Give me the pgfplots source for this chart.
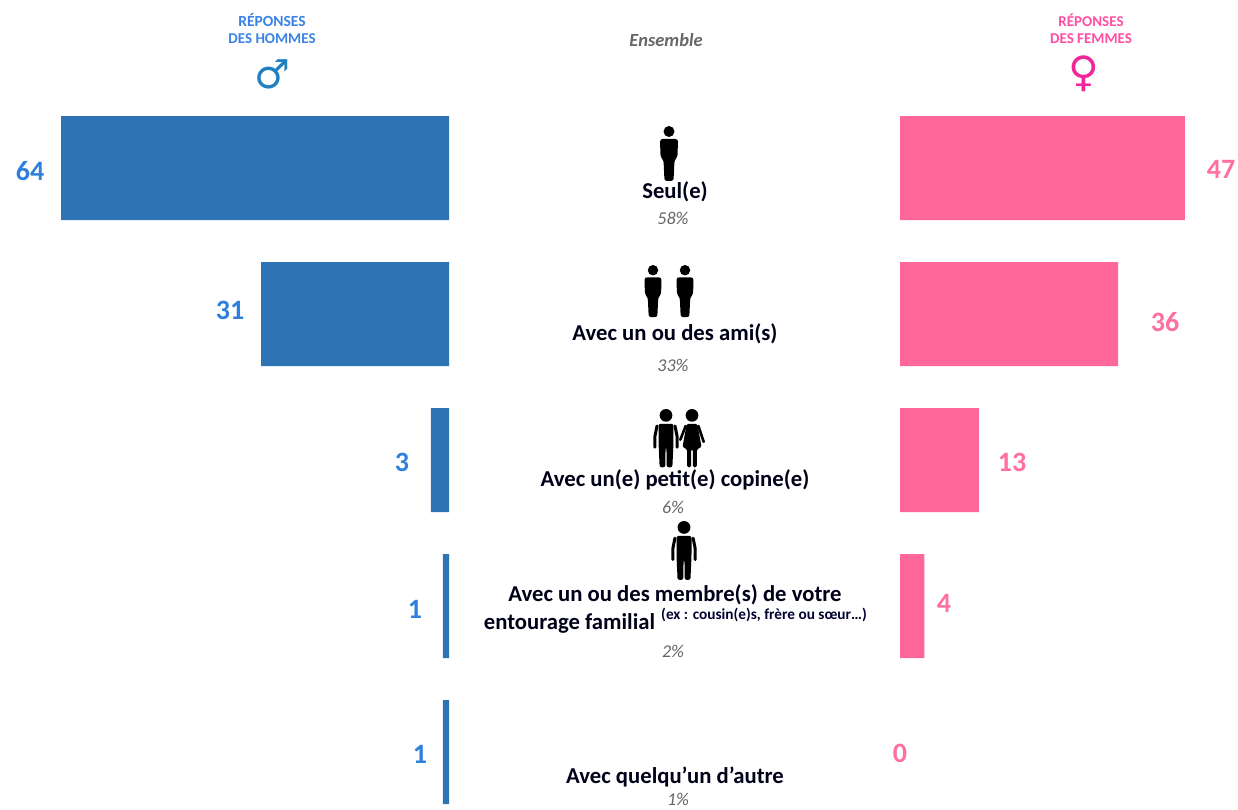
\documentclass[border=0pt]{standalone}
\usepackage{pgfplots}
\pgfplotsset{compat=1.18}
\usepackage{pgfplotstable}
\usepackage{fontspec}
\setmainfont{Carlito}
\newfontfamily\symfont{DejaVu Sans}
\definecolor{mbar}{HTML}{2E74B5}
\definecolor{fbar}{HTML}{FF6699}
\definecolor{mtxt}{HTML}{2F80DC}
\definecolor{ftxt}{HTML}{FF6F9F}
\definecolor{mhead}{HTML}{3A82E4}
\definecolor{fhead}{HTML}{FF4FA3}
\definecolor{msym}{HTML}{1F7FBF}
\definecolor{fsym}{HTML}{F0269A}
\definecolor{graytxt}{HTML}{666666}
\pgfplotstableread{
y v
0 64
1 31
2 3
3 1
4 1
}\hommes
\pgfplotstableread{
y v lx ly
0 47 1221 0.007
1 36 1165 1.055
2 13 1012 2.014
3 4 944 2.980
4 0 900 4.007
}\femmes
\pgfplotstableread{
ly lx v
0.020 30 64
0.973 230 31
2.014 402 3
3.020 415 1
4.014 420 1
}\hommeslab
\pgfplotsset{base/.style={
  scale only axis, axis lines=none, xbar, bar width=104pt, bar shift=0pt,
  height=809pt, y dir=reverse, ymin=-1.1507, ymax=4.3904, clip=false}}
% silhouette: x centre, y top (px from the top), scale
\newcommand{\person}[3]{%
  \begin{scope}[shift={(#1,809-#2)},scale=#3]
    \fill[black] (0,-5.5) circle (5.5);
    \fill[black,rounded corners=2.5pt] (-9,-13) -- (9,-13) -- (8.5,-31) -- (5.5,-34) -- (4.5,-55) -- (-4.5,-55) -- (-5.5,-34) -- (-8.5,-31) -- cycle;
  \end{scope}}
% man with separated arms
\newcommand{\personb}[3]{%
  \begin{scope}[shift={(#1,809-#2)},scale=#3]
    \fill[black] (0,-6) circle (6);
    \fill[black,rounded corners=2pt] (-7,-14) -- (7,-14) -- (7,-33) -- (6,-55) -- (0.7,-55) -- (0.4,-36) -- (-0.4,-36) -- (-0.7,-55) -- (-6,-55) -- (-7,-33) -- cycle;
    \draw[black,line width=3pt,line cap=round,line join=round] (-8.5,-16) -- (-10.5,-26) -- (-10.5,-36);
    \draw[black,line width=3pt,line cap=round,line join=round] (8.5,-16) -- (10.5,-26) -- (10.5,-36);
  \end{scope}}
% woman with a skirt
\newcommand{\personf}[3]{%
  \begin{scope}[shift={(#1,809-#2)},scale=#3]
    \fill[black] (0,-6) circle (6);
    \fill[black,rounded corners=1.5pt] (-5,-14) -- (5,-14) -- (9,-36) -- (4.5,-38) -- (4.5,-55) -- (0.8,-55) -- (0.8,-38) -- (-0.8,-38) -- (-0.8,-55) -- (-4.5,-55) -- (-4.5,-38) -- (-9,-36) -- cycle;
    \draw[black,line width=2.6pt,line cap=round] (6,-16) -- (11,-31);
    \draw[black,line width=2.6pt,line cap=round] (-6,-16) -- (-11,-29);
  \end{scope}}
\newcommand{\txt}[4][]{\node[anchor=center,inner sep=0pt,#1] at (#2,809-#3) {#4};}
\begin{document}
\begin{tikzpicture}[x=1pt,y=1pt]
\useasboundingbox (0,0) rectangle (1238,809);
\begin{axis}[base, at={(0pt,0pt)}, anchor=south west, width=449pt, x dir=reverse, xmin=0, xmax=74.09]
  \addplot[fill=mbar,draw=none] table[x=v,y=y] {\hommes};
\end{axis}
\begin{axis}[base, at={(900pt,0pt)}, anchor=south west, width=338pt, xmin=0, xmax=55.78]
  \addplot[fill=fbar,draw=none,restrict x to domain=0.5:100] table[x=v,y=y] {\femmes};
\end{axis}
% value labels
\begin{axis}[scale only axis, axis lines=none, at={(0pt,0pt)}, anchor=south west, width=1238pt, height=809pt,
  xmin=0, xmax=1238, ymin=-1.1507, ymax=4.3904, y dir=reverse, clip=false]
  \addplot[draw=none,mark=none,point meta=explicit symbolic,
    nodes near coords,
    nodes near coords style={anchor=center,inner sep=0pt,text=mtxt,font=\fontsize{28}{30}\selectfont\bfseries}]
    table[x=lx,y=ly,meta=v] {\hommeslab};
  \addplot[draw=none,mark=none,point meta=explicit symbolic,
    nodes near coords,
    nodes near coords style={anchor=center,inner sep=0pt,text=ftxt,font=\fontsize{28}{30}\selectfont\bfseries}]
    table[x=lx,y=ly,meta=v] {\femmes};
\end{axis}
% headers
\txt[text=mhead,font=\fontsize{15.5}{18}\selectfont\bfseries]{272}{20}{RÉPONSES}
\txt[text=mhead,font=\fontsize{15}{18}\selectfont\bfseries]{272}{39}{DES HOMMES}
\txt[text=msym,font=\fontsize{40}{44}\selectfont\symfont]{272}{74}{♂}
\txt[text=fhead,font=\fontsize{15}{18}\selectfont\bfseries]{1091}{20}{RÉPONSES}
\txt[text=fhead,font=\fontsize{15}{18}\selectfont\bfseries]{1091}{39}{DES FEMMES}
\txt[text=fsym,font=\fontsize{42}{44}\selectfont\symfont]{1084}{74}{♀}
\txt[text=graytxt,font=\fontsize{18.5}{20}\selectfont\itshape\bfseries]{666}{40}{Ensemble}
% icons
\person{669}{126}{1}
\person{653}{265}{0.95}
\person{685}{265}{0.95}
\personb{666}{409}{1.06}
\personf{692}{409}{1.06}
\personb{684}{521}{1.07}
% central labels
\tikzset{cat/.style={font=\fontsize{22.7}{24}\selectfont\bfseries,text=black!90!blue},
         pct/.style={font=\fontsize{18}{20}\selectfont\itshape,text=graytxt}}
\txt[cat]{675}{192}{Seul(e)}
\txt[pct]{673}{218}{58\%}
\txt[cat]{675}{334}{Avec un ou des ami(s)}
\txt[pct]{673}{365}{33\%}
\txt[cat]{675}{480}{Avec un(e) petit(e) copine(e)}
\txt[pct]{673}{507}{6\%}
\txt[cat]{675}{595}{Avec un ou des membre(s) de votre}
\txt[cat]{569.5}{623}{entourage familial}
\txt[font=\fontsize{15.3}{16}\selectfont\bfseries,text=black!80!blue]{764}{615}{(ex : cousin(e)s, frère ou sœur…)}
\txt[pct]{673}{651}{2\%}
\txt[cat]{675}{777}{Avec quelqu’un d’autre}
\txt[pct]{678}{799}{1\%}
\end{tikzpicture}
\end{document}
